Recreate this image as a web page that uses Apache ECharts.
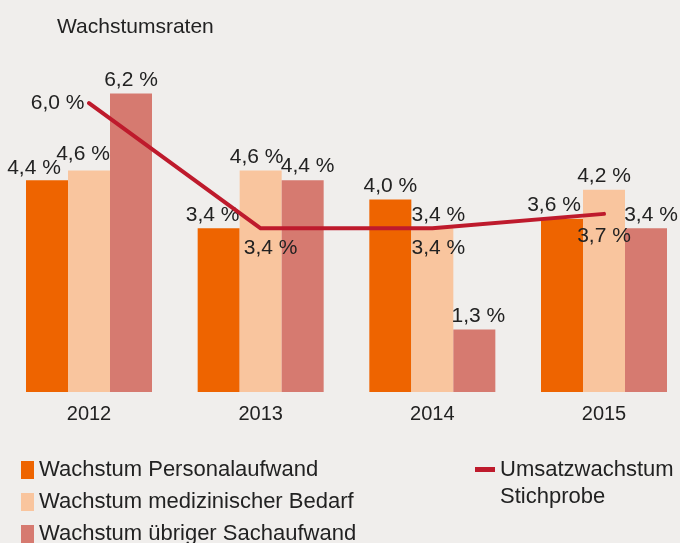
<!DOCTYPE html>
<html><head><meta charset="utf-8">
<script src="https://cdn.jsdelivr.net/npm/echarts@6/dist/echarts.min.js"></script>
<style>html,body{margin:0;padding:0;background:#f0eeec;}#c{width:680px;height:543px;}</style>
</head><body><div id="c"></div>
<script>
const categories = ['2012', '2013', '2014', '2015'];
const personal = [4.4, 3.4, 4.0, 3.6];
const medizin = [4.6, 4.6, 3.4, 4.2];
const sach = [6.2, 4.4, 1.3, 3.4];
const umsatz = [6.0, 3.4, 3.4, 3.7];
const names = ['Wachstum Personalaufwand', 'Wachstum medizinischer Bedarf', 'Wachstum übriger Sachaufwand', 'Umsatzwachstum Stichprobe'];

const FONT = '"Liberation Sans", Arial, sans-serif';
const TXT = '#222';
const fmt = v => v.toFixed(1).replace('.', ',') + ' %';

// label offsets (layout only)
const offP = [[-13, 2], [-6, 0], [0, 0], [-8, 0]];
const offM = [[-6, -3], [-4, 0], [6, 0], [0, 0]];
const offS = [[0, 0], [5, 0], [4, 0], [5, 0]];
const offL = [null, [10, 0], [6, 0], [0, 2]];

function barData(vals, offs) {
  return vals.map((v, i) => ({ value: v, label: { offset: offs[i] } }));
}
const lineData = umsatz.map((v, i) => {
  if (i === 0) return { value: v, label: { position: 'left', distance: 4 } };
  return { value: v, label: { position: 'bottom', distance: 9, offset: offL[i] } };
});

const barLabel = {
  show: true, position: 'top', distance: 3,
  fontFamily: FONT, fontSize: 21, color: TXT,
  formatter: p => fmt(p.value)
};

const legendText = { fontFamily: FONT, fontSize: 22, color: TXT, lineHeight: 18 };
const barLegend = (i, top) => ({
  data: [names[i]], left: 21, top: top, padding: 0,
  icon: 'rect', itemWidth: 13, itemHeight: 18,
  textStyle: legendText
});

const chart = echarts.init(document.getElementById('c'));
chart.setOption({
  backgroundColor: '#f0eeec',
  animation: false,
  title: {
    text: 'Wachstumsraten', left: 52, top: 12,
    textStyle: { fontFamily: FONT, fontSize: 21, fontWeight: 'normal', color: TXT }
  },
  grid: { left: 89, right: 76, top: 55, height: 337 },
  xAxis: {
    type: 'category', data: categories, boundaryGap: false,
    axisLine: { show: false }, axisTick: { show: false },
    axisLabel: { fontFamily: FONT, fontSize: 20, color: TXT, margin: 12 }
  },
  yAxis: { type: 'value', min: 0, max: 7, show: false, splitLine: { show: false } },
  legend: [
    barLegend(0, 459),
    barLegend(1, 491),
    barLegend(2, 523),
    {
      data: [names[3]], left: 475, top: 429, padding: 0,
      icon: 'rect', itemWidth: 20, itemHeight: 5,
      formatter: () => ' \nUmsatzwachstum\nStichprobe',
      textStyle: { fontFamily: FONT, fontSize: 22, color: TXT, lineHeight: 27 }
    }
  ],
  series: [
    { name: names[0], type: 'bar', data: barData(personal, offP), barWidth: 42, barGap: '0%', clip: false,
      itemStyle: { color: '#ee6400' }, label: barLabel },
    { name: names[1], type: 'bar', data: barData(medizin, offM), barWidth: 42, barGap: '0%', clip: false,
      itemStyle: { color: '#f9c59e' }, label: barLabel },
    { name: names[2], type: 'bar', data: barData(sach, offS), barWidth: 42, barGap: '0%', clip: false,
      itemStyle: { color: '#d67a70' }, label: barLabel },
    { name: names[3], type: 'line', data: lineData, z: 5, clip: false,
      symbol: 'circle', symbolSize: 1, showSymbol: true,
      lineStyle: { color: '#be1a2c', width: 4, cap: 'round', join: 'round' },
      itemStyle: { color: '#be1a2c' },
      label: { show: true, fontFamily: FONT, fontSize: 21, color: TXT, formatter: p => fmt(p.value) } }
  ]
});
</script>
</body></html>
